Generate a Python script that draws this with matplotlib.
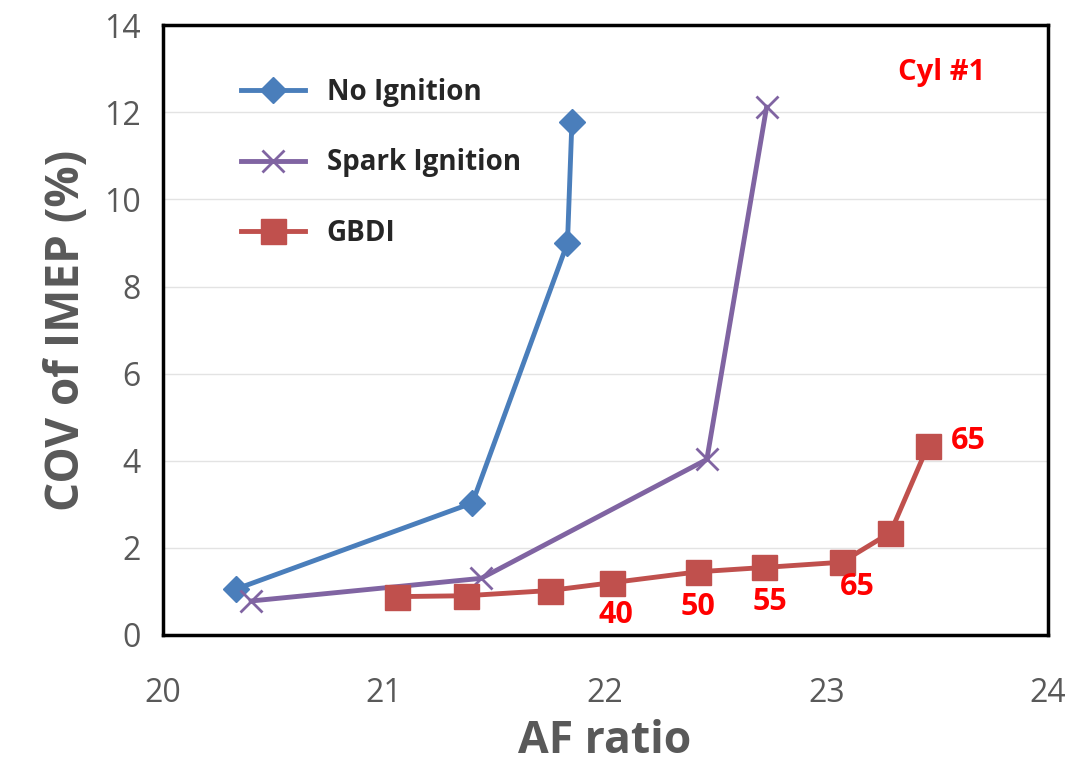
import numpy as np
import matplotlib
matplotlib.use("Agg")
import matplotlib.pyplot as plt

# data
no_ign_x = [20.33, 21.40, 21.83, 21.85]
no_ign_y = [1.05, 3.03, 9.0, 11.78]

spark_x = [20.40, 21.44, 22.46, 22.73]
spark_y = [0.78, 1.3, 4.03, 12.12]

gbdi_x = [21.06, 21.37, 21.75, 22.03, 22.42, 22.72, 23.07, 23.29, 23.46]
gbdi_y = [0.88, 0.9, 1.02, 1.2, 1.45, 1.55, 1.67, 2.35, 4.35]

# point labels on the GBDI curve (index, text)
gbdi_labels = [(3, "40"), (4, "50"), (5, "55"), (6, "65"), (8, "65")]
label_offsets = [(3, -23), (0, -25), (4, -25), (11, -18), (29, 3)]

blue = "#4A7EBB"
purple = "#8064A2"
red = "#C0504D"
grey = "#595959"

plt.rcParams['font.family'] = ['Open Sans', 'DejaVu Sans']

fig = plt.figure(figsize=(10.7, 7.65), dpi=100)
ax = fig.add_axes([0.152, 0.170, 0.827, 0.797])

ax.plot(no_ign_x, no_ign_y, color=blue, lw=3.5, marker='D', ms=13,
        label="No Ignition")
ax.plot(spark_x, spark_y, color=purple, lw=3.5, marker='x', ms=16, mew=2,
        label="Spark Ignition")
ax.plot(gbdi_x, gbdi_y, color=red, lw=3.5, marker='s', ms=18,
        label="GBDI")

for (i, txt), off in zip(gbdi_labels, label_offsets):
    ax.annotate(txt, (gbdi_x[i], gbdi_y[i]), xytext=off,
                textcoords='offset points', ha='center', va='center',
                color='red', fontsize=22, fontweight='bold')

ax.text(0.880, 0.923, "Cyl #1", transform=ax.transAxes, ha='center',
        va='center', color='red', fontsize=21, fontweight='bold')

ax.set_xlim(20, 24)
ax.set_ylim(0, 14)
ax.set_xticks(np.arange(20, 25, 1))
ax.set_yticks(np.arange(0, 15, 2))
ax.yaxis.grid(True, color='#e3e3e3', lw=1)
ax.set_axisbelow(True)
ax.tick_params(length=0, labelsize=23, labelcolor=grey, pad=16)
ax.tick_params(axis='x', pad=30)

for s in ax.spines.values():
    s.set_linewidth(2.5)
    s.set_color('black')

ax.set_xlabel("AF ratio", fontsize=32, fontweight='bold', color=grey,
              labelpad=7)
ax.set_ylabel("COV of IMEP (%)", fontsize=33, fontweight='bold', color=grey,
              labelpad=10)

leg = ax.legend(loc='upper left', bbox_to_anchor=(0.06, 0.955), frameon=False,
                labelspacing=1.5, handlelength=2.3, handletextpad=0.8,
                prop={'size': 20, 'weight': 'bold'})
for t in leg.get_texts():
    t.set_color('#262626')

plt.savefig("out.png", dpi=100)
